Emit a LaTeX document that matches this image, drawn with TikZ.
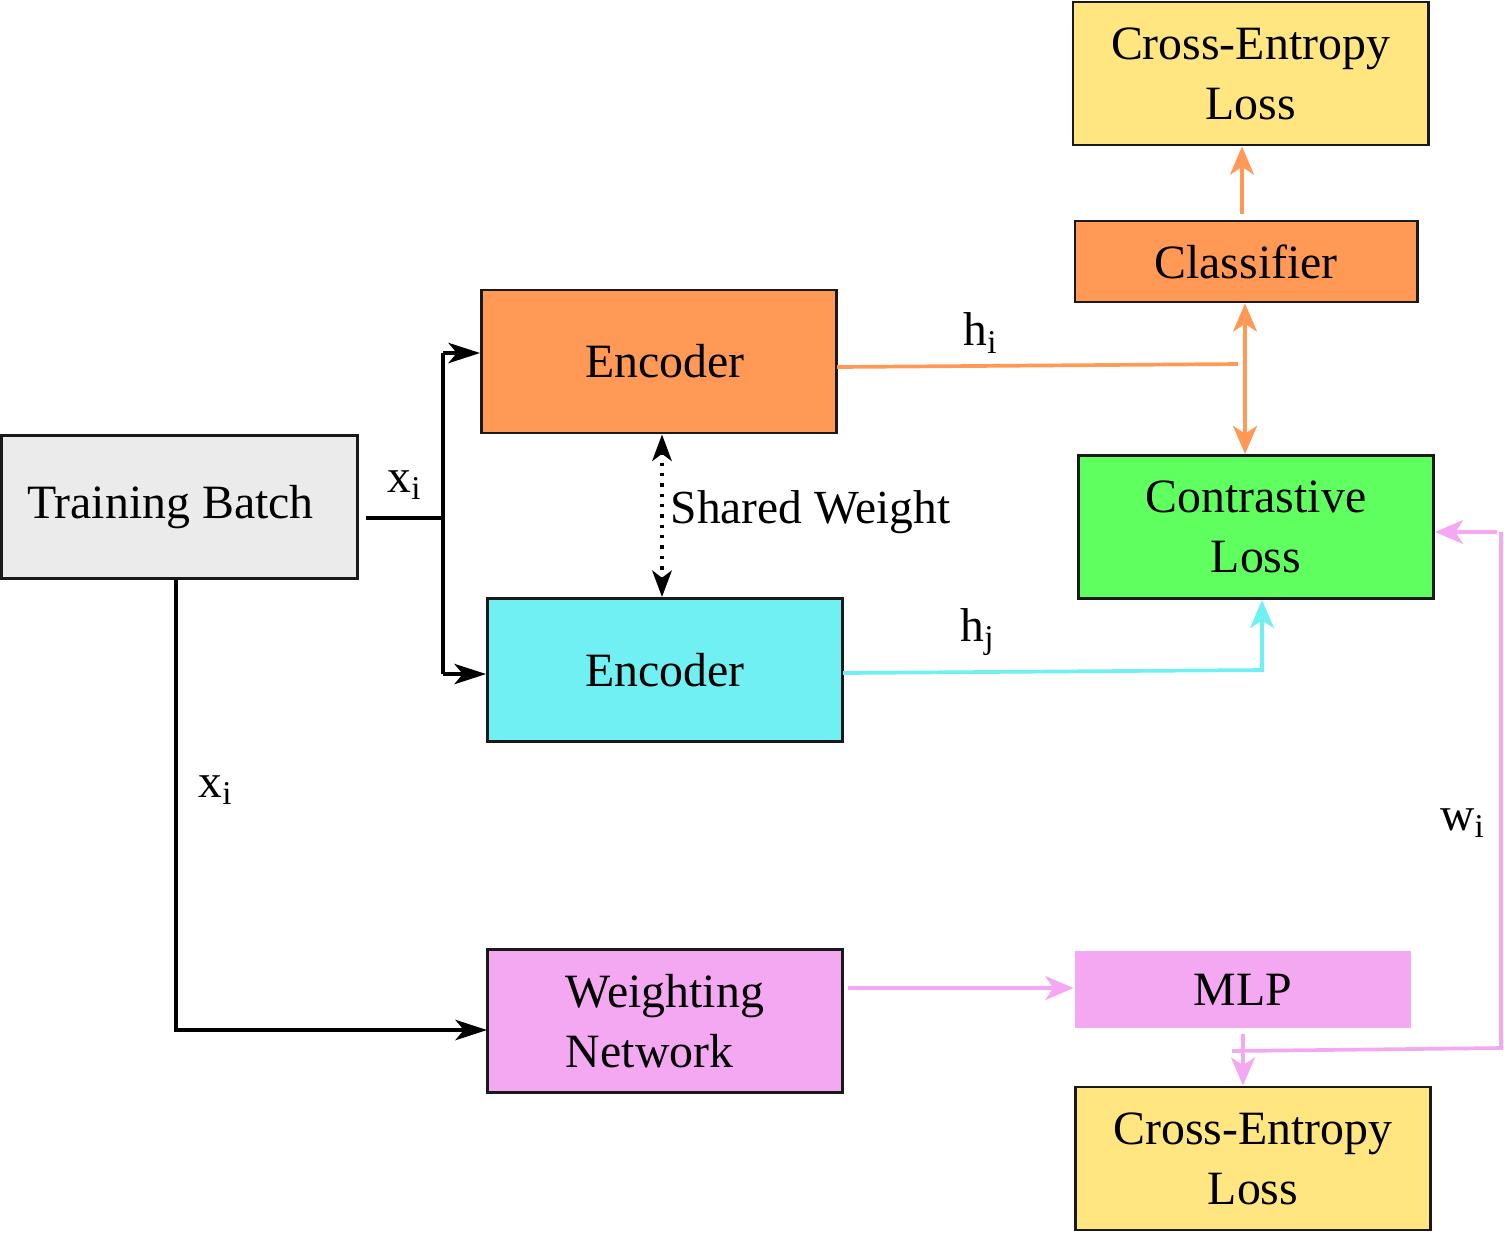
\documentclass[tikz,border=0pt]{standalone}
\usepackage{fontspec}
\setmainfont{Liberation Serif}
\usetikzlibrary{arrows.meta}
\definecolor{corange}{HTML}{FF9955}
\definecolor{ccyan}{HTML}{70F0F2}
\definecolor{cpink}{HTML}{F5A8F2}
\definecolor{cgreen}{HTML}{5FFF5F}
\definecolor{cyellow}{HTML}{FFE680}
\definecolor{cgrey}{HTML}{EBEBEB}
\tikzset{
  box/.style={draw=black!90, line width=0.8pt, minimum width=3.55cm, minimum height=1.43cm,
    inner sep=0pt, align=center, font=\fontsize{13.6}{17}\selectfont},
  lbl/.style={inner sep=0pt, font=\fontsize{13.5}{16}\selectfont},
  blk/.style={line width=0.95pt, black},
  tipb/.style={-{Stealth[length=9pt,width=5.8pt,inset=2.4pt]}},
  tipc/.style={-{Stealth[length=8pt,width=6.8pt,inset=2.2pt]}},
  tipcc/.style={{Stealth[length=8pt,width=6.8pt,inset=2.2pt]}-{Stealth[length=8pt,width=6.8pt,inset=2.2pt]}},
  orgl/.style={line width=1.05pt, corange},
  cyl/.style={line width=1.05pt, ccyan},
  pkl/.style={line width=1.05pt, cpink},
}
\begin{document}
\begin{tikzpicture}[x=0.01cm,y=-0.01cm]
\useasboundingbox (0,0) rectangle (1504,1232);
% boxes
\node[box, fill=cgrey] (tb) at (179.5,507) {Training Batch\kern0.18cm};
\node[box, fill=corange] (enc1) at (659,361.5) {\kern0.12cm Encoder};
\node[box, fill=ccyan] (enc2) at (665,670) {Encoder};
\node[box, fill=cpink, align=left] (wn) at (665,1021) {Weighting\\Network};
\node[box, fill=cyellow] (ce1) at (1250.5,73.5) {Cross-Entropy\\Loss};
\node[box, fill=corange, minimum width=3.42cm, minimum height=0.81cm] (cls) at (1246,261.5) {Classifier};
\node[box, fill=cgreen] (cl) at (1256,527) {Contrastive\\Loss};
\node[box, fill=cpink, draw=none, minimum width=3.36cm, minimum height=0.77cm] (mlp) at (1243,989.5) {MLP};
\node[box, fill=cyellow] (ce2) at (1253,1158.5) {Cross-Entropy\\Loss};
% labels
\node[lbl] (lx1) at (405,485) {x\textsubscript{i}};
\node[lbl] (lx2) at (216,790) {x\textsubscript{i}};
\node[lbl, anchor=west] (lsw) at (670,512) {Shared Weight};
\node[lbl] (lhi) at (981,333) {h\textsubscript{i}};
\node[lbl] (lhj) at (978,632) {h\textsubscript{j}};
\node[lbl] (lwi) at (1463,823) {w\textsubscript{i}};
% coordinates
\coordinate (tbout) at (366,518);
\coordinate (jmid) at (443,518);
\coordinate (jtop) at (443,353);
\coordinate (jbot) at (443,674);
\coordinate (tbdown) at (176,580);
\coordinate (wnin) at (487,1030);
\coordinate (histart) at (837,367);
\coordinate (hiend) at (1238,364);
\coordinate (hjstart) at (843,673);
\coordinate (hjc) at (1262,670);
\coordinate (wnout) at (848,988);
\coordinate (w1) at (1232,1051);
\coordinate (w2) at (1501,1048);
\coordinate (w3) at (1501,532);
\coordinate (w4) at (1497,532);
% black connectors
\draw[blk] (tbout) -- (jmid);
\draw[blk] (jtop) -- (jbot);
\draw[blk,tipb] (jtop) -- (enc1.west |- jtop);
\draw[blk,tipb] (jbot) -- (enc2.west |- jbot);
\draw[blk,tipb] (tbdown) |- (wnin);
\draw[blk, dotted, line width=1.3pt, {Stealth[length=7.5pt,width=5.5pt,inset=2pt]}-{Stealth[length=7.5pt,width=5.5pt,inset=2pt]}] ([xshift=0.03cm]enc1.south) -- ([xshift=0.03cm]enc1.south |- enc2.north);
% orange
\draw[orgl] (histart) -- (hiend);
\draw[orgl, tipcc] ([xshift=-0.01cm]cls.south) -- ([xshift=-0.01cm]cls.south |- cl.north);
\draw[orgl,tipc] ([xshift=-0.04cm,yshift=0.06cm]cls.north) -- ([xshift=-0.04cm]cls.north |- ce1.south);
% cyan
\draw[cyl,tipc] (hjstart) -- (hjc) -- (hjc |- cl.south);
% pink
\draw[pkl,tipc] (wnout) -- (wnout -| mlp.west);
\draw[pkl,tipc] ([yshift=-0.05cm]mlp.south) -- (mlp.south |- ce2.north);
\draw[pkl] (w1) -- (w2) -- (w3);
\draw[pkl,tipc] (w4) -- (w4 -| cl.east);
\end{tikzpicture}
\end{document}
